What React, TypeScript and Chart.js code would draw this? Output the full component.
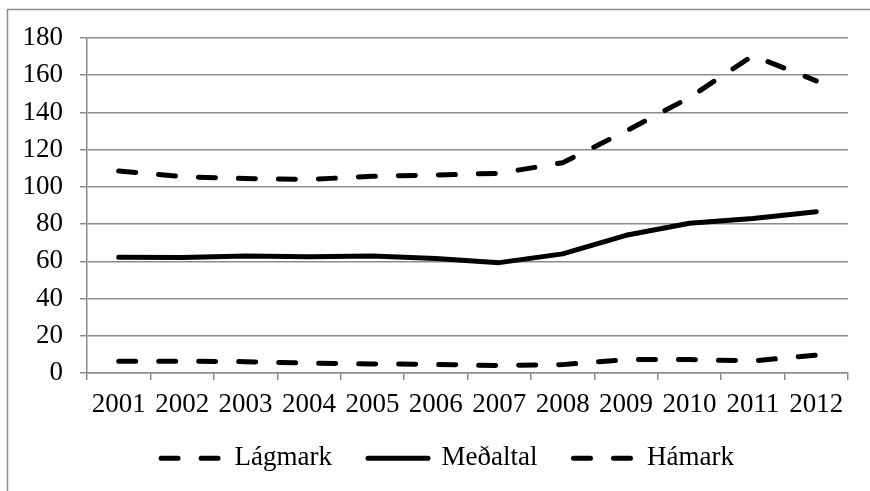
import React, { useEffect, useRef } from "react";
import { Chart, registerables } from "chart.js";

Chart.register(...registerables);

const years = ["2001", "2002", "2003", "2004", "2005", "2006", "2007", "2008", "2009", "2010", "2011", "2012"];
const lagmark = [6.3, 6.3, 6.1, 5.3, 4.9, 4.6, 4.0, 4.5, 7.2, 7.2, 6.5, 9.6];
const medaltal = [62.2, 62.0, 62.9, 62.4, 62.8, 61.5, 59.3, 64.0, 74.0, 80.5, 83.0, 86.7];
const hamark = [108.5, 105.5, 104.5, 104.0, 105.7, 106.4, 107.3, 113.0, 130.0, 148.0, 170.5, 157.0];
const yMin = 0;
const yMax = 180;
const yStep = 20;

const FONT = '"Liberation Serif", "Times New Roman", serif';
const GRID = "#8c8c8c";
const DASH = [17, 23];

const framePlugin = {
  id: "frame",
  beforeDraw(chart: any) {
    const ctx = chart.ctx;
    ctx.save();
    ctx.strokeStyle = GRID;
    ctx.lineWidth = 1.5;
    ctx.beginPath();
    ctx.moveTo(7.5, chart.height + 2);
    ctx.lineTo(7.5, 9.5);
    ctx.lineTo(chart.width + 2, 9.5);
    ctx.stroke();
    ctx.restore();
  },
};

// place the legend row where the reference has it
const legendPlacePlugin = {
  id: "legendPlace",
  afterLayout(chart: any) {
    const lg = chart.legend;
    if (!lg) return;
    const targetCenterX = 447.5;
    const targetTop = 408.8;
    const dx = targetCenterX - (lg.left + lg.right) / 2;
    lg.left += dx;
    lg.right += dx;
    const h = lg.bottom - lg.top;
    lg.top = targetTop;
    lg.bottom = targetTop + h;
  },
};

export default function App() {
  const ref = useRef<HTMLCanvasElement>(null);

  useEffect(() => {
    document.body.style.margin = "0";
    const canvas = ref.current;
    if (!canvas) return;
    const lineStyle = {
      borderColor: "#000",
      backgroundColor: "#000",
      borderWidth: 5,
      borderCapStyle: "round" as const,
      borderJoinStyle: "round" as const,
      pointRadius: 0,
      pointHoverRadius: 0,
      tension: 0,
      fill: false,
    };
    const chart = new Chart(canvas, {
      type: "line",
      data: {
        labels: years,
        datasets: [
          { label: "Lágmark", data: lagmark, ...lineStyle, borderDash: DASH },
          { label: "Meðaltal", data: medaltal, ...lineStyle },
          { label: "Hámark", data: hamark, ...lineStyle, borderDash: DASH },
        ],
      },
      options: {
        responsive: false,
        animation: false,
        devicePixelRatio: 1,
        layout: { padding: { left: 5.5, right: 22, top: 38, bottom: -12.4 } },
        plugins: {
          tooltip: { enabled: false },
          legend: {
            position: "bottom",
            labels: {
              usePointStyle: true,
              pointStyle: "line",
              pointStyleWidth: 60,
              color: "#000",
              font: { family: FONT, size: 27 },
              padding: 36,
              generateLabels: (c: any) => {
                const items = Chart.defaults.plugins.legend.labels.generateLabels(c);
                return items.map((it: any) => {
                  const ds: any = c.data.datasets[it.datasetIndex];
                  return {
                    ...it,
                    pointStyle: "line",
                    lineDash: ds.borderDash || [],
                    lineDashOffset: 0,
                    lineCap: "round",
                    lineWidth: 5,
                    strokeStyle: "#000",
                    fillStyle: "#000",
                    fontColor: "#000",
                  };
                });
              },
            },
          },
        },
        scales: {
          x: {
            offset: true,
            grid: {
              offset: true,
              drawOnChartArea: false,
              drawTicks: true,
              tickLength: 7,
              color: GRID,
              lineWidth: 1.5,
            },
            border: { display: true, color: GRID, width: 1.5 },
            ticks: {
              color: "#000",
              font: { family: FONT, size: 27 },
              padding: 9,
              maxRotation: 0,
              autoSkip: false,
            },
          },
          y: {
            min: yMin,
            max: yMax,
            grid: {
              drawTicks: true,
              tickLength: 7,
              color: GRID,
              lineWidth: 1.5,
            },
            border: { display: true, color: GRID, width: 1.5 },
            ticks: {
              stepSize: yStep,
              autoSkip: false,
              color: "#000",
              font: { family: FONT, size: 27 },
              padding: 17,
            },
          },
        },
      },
      plugins: [framePlugin, legendPlacePlugin],
    });
    return () => chart.destroy();
  }, []);

  return <canvas ref={ref} width={870} height={491} style={{ display: "block" }} />;
}
